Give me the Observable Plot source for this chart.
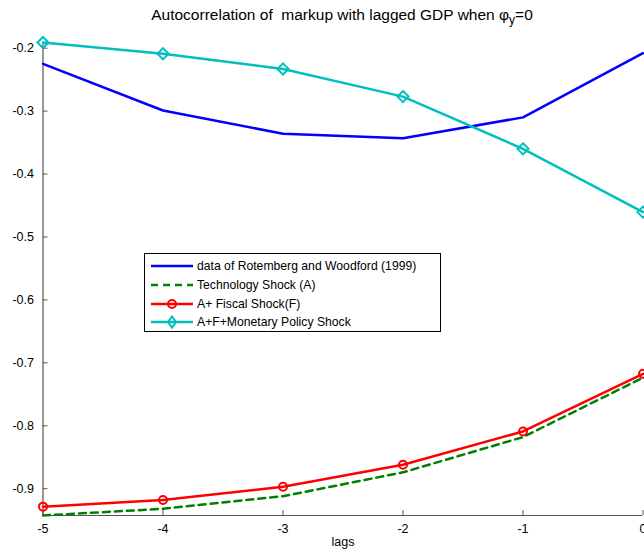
<!DOCTYPE html>
<html>
<head>
<meta charset="utf-8">
<script src="https://cdn.jsdelivr.net/npm/d3@7"></script>
<script src="https://cdn.jsdelivr.net/npm/@observablehq/plot@0.6"></script>
<style>
  html, body { margin: 0; padding: 0; background: #fff; }
  #wrap { position: relative; width: 644px; height: 552px; font-family: "Liberation Sans", Arial, sans-serif; }
  #title { position: absolute; left: 42px; width: 600px; top: 6px; text-align: center; font-size: 15.5px; color: #000; white-space: nowrap; }
  #title sub { font-size: 12px; }
  #legend { position: absolute; left: 144px; top: 253px; width: 297px; height: 79px; border: 1px solid #000; background: #fff; font-size: 12.2px; box-sizing: border-box; }
  #legend .row { position: absolute; left: 0; height: 18px; display: flex; align-items: center; white-space: nowrap; }
  #legend svg { margin-left: 6px; margin-right: 4px; }
</style>
</head>
<body>
<div id="wrap">
  <div id="chart"></div>
  <div id="title">Autocorrelation of &nbsp;markup with lagged GDP when &phi;<sub>y</sub>=0</div>
  <div id="legend"></div>
</div>
<script>
const lags = [-5, -4, -3, -2, -1, 0];
const seriesNames = [
  "data of Rotemberg and Woodford (1999)",
  "Technology Shock (A)",
  "A+ Fiscal Shock(F)",
  "A+F+Monetary Policy Shock"
];
const dataRW      = [-0.225, -0.299, -0.336, -0.343, -0.310, -0.208];
const technology  = [-0.9426, -0.932, -0.912, -0.874, -0.818, -0.7236];
const fiscal      = [-0.9285, -0.918, -0.897, -0.862, -0.809, -0.7175];
const monetary    = [-0.191, -0.209, -0.233, -0.277, -0.360, -0.4605];
const yTicks = [-0.9, -0.8, -0.7, -0.6, -0.5, -0.4, -0.3, -0.2];
const xTicks = [-5, -4, -3, -2, -1, 0];

const colors = ["#0000ff", "#008000", "#ff0000", "#00bfbf"];
const dashes = [null, "7,5", null, null];
const symbols = [null, null, "circle", "diamond2"];
const values = [dataRW, technology, fiscal, monetary];

const rows = [];
values.forEach((vals, s) => vals.forEach((v, i) => rows.push({series: seriesNames[s], lag: lags[i], value: v})));

const allVals = values.flat();
const yDomain = [d3.min(allVals), d3.max(allVals)];
const xDomain = [d3.min(lags), d3.max(lags)];

const marks = [];
values.forEach((vals, s) => {
  const d = rows.filter(r => r.series === seriesNames[s]);
  marks.push(Plot.line(d, {x: "lag", y: "value", stroke: colors[s], strokeWidth: 2.5, strokeDasharray: dashes[s]}));
});
values.forEach((vals, s) => {
  if (!symbols[s]) return;
  const d = rows.filter(r => r.series === seriesNames[s]);
  marks.push(Plot.dot(d, {x: "lag", y: "value", stroke: colors[s], strokeWidth: 2, symbol: symbols[s], r: symbols[s] === "circle" ? 4 : 5, fill: "none"}));
});

const axisColor = "#555";
const chart = Plot.plot({
  width: 644,
  height: 552,
  marginTop: 42,
  marginBottom: 37,
  marginLeft: 42.5,
  marginRight: 1.5,
  style: {fontFamily: "Liberation Sans, Arial, sans-serif", fontSize: "12px", color: "#000", background: "#fff"},
  x: {domain: xDomain},
  y: {domain: yDomain},
  marks: [
    Plot.ruleX([xDomain[0]], {stroke: axisColor, strokeWidth: 1.2}),
    Plot.ruleY([yDomain[0]], {stroke: axisColor, strokeWidth: 1.2}),
    Plot.axisY(yTicks, {tickSize: 5, dx: 5, tickFormat: () => "", stroke: axisColor, label: null}),
    Plot.axisX(xTicks, {tickSize: 5, dy: -5, tickFormat: () => "", stroke: axisColor, label: null}),
    Plot.axisY(yTicks, {tickSize: 0, tickPadding: 9, tickFormat: d => d.toFixed(1), label: null, fontSize: 12.5}),
    Plot.axisX(xTicks, {tickSize: 0, tickPadding: 9, tickFormat: d => String(d), label: null, fontSize: 12.5}),
    Plot.text(["lags"], {frameAnchor: "bottom", dy: 30, text: d => d, fontSize: 12.5}),
    ...marks
  ]
});
document.getElementById("chart").appendChild(chart);

const legend = document.getElementById("legend");
const rowTops = [3, 22, 41, 59];
seriesNames.forEach((name, s) => {
  const row = document.createElement("div");
  row.className = "row";
  row.style.top = rowTops[s] + "px";
  const sym = symbols[s] === "circle"
    ? `<circle cx="21" cy="9" r="4" fill="none" stroke="${colors[s]}" stroke-width="2"/>`
    : symbols[s] === "diamond2"
    ? `<path d="M21,3.5 L25,9 L21,14.5 L17,9 Z" fill="none" stroke="${colors[s]}" stroke-width="2"/>`
    : "";
  row.innerHTML = `<svg width="42" height="18"><line x1="0" y1="9" x2="42" y2="9" stroke="${colors[s]}" stroke-width="2.5" ${dashes[s] ? `stroke-dasharray="${dashes[s]}"` : ""}/>${sym}</svg><span>${name}</span>`;
  legend.appendChild(row);
});
</script>
</body>
</html>
